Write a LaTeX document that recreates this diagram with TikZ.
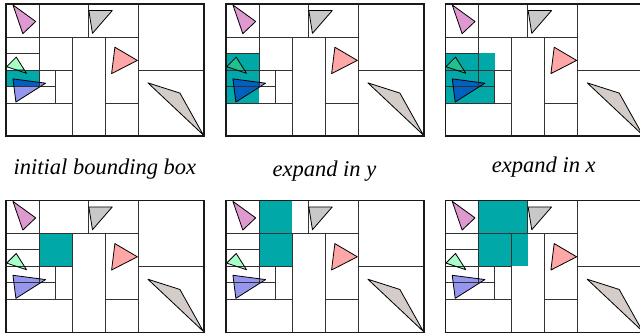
\documentclass[tikz,border=0pt]{standalone}
\usepackage{fontspec}
\setmainfont{Liberation Serif}
\usepackage{tikz}
\definecolor{bboxteal}{RGB}{0,168,168}
\definecolor{trimagenta}{RGB}{221,153,208}
\definecolor{trigray}{RGB}{200,200,200}
\definecolor{tripink}{RGB}{255,166,166}
\definecolor{trigreen}{RGB}{168,255,200}
\definecolor{triblue}{RGB}{150,150,238}
\definecolor{tribeige}{RGB}{211,204,200}
\definecolor{greenover}{RGB}{32,192,144}
\definecolor{blueover}{RGB}{0,96,192}
\newcommand{\triMagenta}{(0.21,3.97) -- (0.90,3.47) -- (0.51,3.10) -- cycle}
\newcommand{\triGray}{(2.51,3.80) -- (3.22,3.80) -- (2.62,3.11) -- cycle}
\newcommand{\triPink}{(3.30,2.69) -- (3.98,2.29) -- (3.20,1.89) -- cycle}
\newcommand{\triGreen}{(0.02,2.10) -- (0.31,2.39) -- (0.62,1.90) -- cycle}
\newcommand{\triBlue}{(0.21,1.73) -- (1.20,1.60) -- (0.30,1.03) -- cycle}
\newcommand{\triBeige}{(4.30,1.61) -- (5.27,1.30) -- (5.98,0.03) -- cycle}
\tikzset{
    cellline/.style={
        draw=black!80,
        line width=0.8pt
    },
    frameline/.style={
        draw=black!90,
        line width=1pt
    },
    triline/.style={
        draw=black,
        line width=0.7pt,
        line join=round
    },
    caption/.style={
        anchor=base,
        font=\fontsize{19.4}{23}\selectfont\itshape
    }
}
% #1 shift of the panel, #2 and #3 corners of the teal box
\newcommand{\bboxpanel}[3]{%
    \begin{scope}[shift={#1}]
        \fill[bboxteal] #2 rectangle #3;
        \fill[trimagenta] \triMagenta;
        \fill[trigray] \triGray;
        \fill[tripink] \triPink;
        \fill[trigreen] \triGreen;
        \fill[triblue] \triBlue;
        \fill[tribeige] \triBeige;
        \begin{scope}
            \clip #2 rectangle #3;
            \fill[greenover] \triGreen;
            \fill[blueover] \triBlue;
        \end{scope}
        \draw[cellline]
            (1,4) -- (1,3) (2.5,4) -- (2.5,3)
            (0,3) -- (4,3)
            (4,4) -- (4,0) (4,2) -- (6,2)
            (0,2.5) -- (1,2.5)
            (1,3) -- (1,1.5)
            (0,2) -- (2,2)
            (1.5,2) -- (1.5,1)
            (0,1.5) -- (1.5,1.5)
            (0,1) -- (2,1)
            (2,3) -- (2,0) (3,3) -- (3,0)
            (3,1) -- (4,1);
        \draw[triline] \triMagenta \triGray \triPink \triGreen \triBlue \triBeige;
        \draw[frameline] (0,0) rectangle (6,4);
    \end{scope}}

\begin{document}
\begin{tikzpicture}
    \clip (0,0) rectangle (19.394,10.152);

    \bboxpanel{(0.182,6.031)}{(0,1.5)}{(1,2)}
    \bboxpanel{(6.848,6.031)}{(0,1)}{(1,2.5)}
    \bboxpanel{(13.494,6.031)}{(0,1)}{(1.5,2.5)}
    \bboxpanel{(0.182,0.08)}{(1,2)}{(2,3)}
    \bboxpanel{(6.848,0.08)}{(1,2)}{(2,4)}
    \bboxpanel{(13.494,0.08)}{(1,2)}{(2.5,4)}

    \node[caption] (initial) at (3.18,4.85) {initial bounding box};
    \node[caption] (expandy) at (9.83,4.80) {expand in y};
    \node[caption] (expandx) at (16.48,4.91) {expand in x};
\end{tikzpicture}
\end{document}
